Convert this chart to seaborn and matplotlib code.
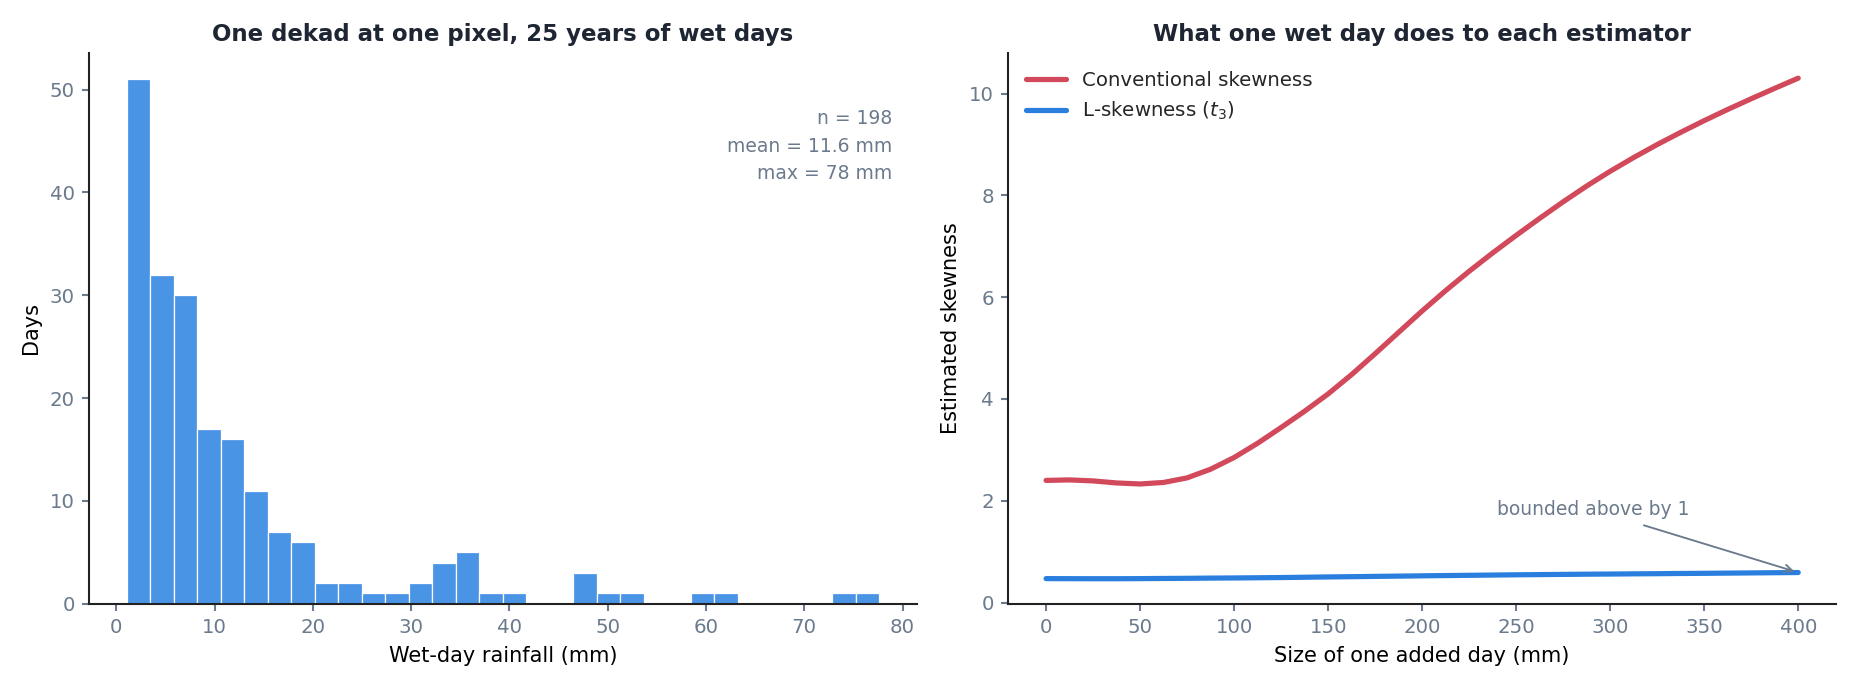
import numpy as np
import pandas as pd
import matplotlib
matplotlib.use("Agg")
import matplotlib.pyplot as plt
import seaborn as sns

# left panel: histogram of wet-day rainfall (32 equal bins)
rain_min = 1.07
rain_max = 77.6
day_counts = [51, 32, 30, 17, 16, 11, 7, 6, 2, 2, 1, 1, 2, 4, 5, 1,
              1, 0, 0, 3, 1, 1, 0, 0, 1, 1, 0, 0, 0, 0, 1, 1]
stats_lines = ["n = 198", "mean = 11.6 mm", "max = 78 mm"]

# right panel: skewness vs size of one added day (every 12.5 mm)
added_mm = [0, 12.5, 25, 37.5, 50, 62.5, 75, 87.5, 100, 112.5, 125, 137.5, 150,
            162.5, 175, 187.5, 200, 212.5, 225, 237.5, 250, 262.5, 275, 287.5, 300,
            312.5, 325, 337.5, 350, 362.5, 375, 387.5, 400]
conv_skew = [2.40, 2.41, 2.39, 2.35, 2.33, 2.36, 2.45, 2.62, 2.85, 3.13, 3.44, 3.76, 4.10,
             4.48, 4.89, 5.31, 5.73, 6.13, 6.51, 6.87, 7.215, 7.55, 7.875, 8.185, 8.475,
             8.745, 9.00, 9.24, 9.47, 9.69, 9.90, 10.105, 10.305]
l_skew = [0.470, 0.469, 0.468, 0.468, 0.470, 0.473, 0.476, 0.480, 0.483, 0.487, 0.491,
          0.497, 0.503, 0.508, 0.514, 0.519, 0.525, 0.530, 0.535, 0.540, 0.545, 0.549,
          0.553, 0.557, 0.560, 0.564, 0.567, 0.571, 0.574, 0.578, 0.582, 0.586, 0.590]

HIST_C = "#4a94e6"
RED = "#d1495b"
BLUE = "#2a7fde"
GREY = "#6b7a8c"
DARK = "#1f2633"

sns.set_theme(style="ticks")
plt.rcParams["font.family"] = ["DejaVu Sans"]
plt.rcParams.update({
    "axes.edgecolor": "#222222",
    "axes.linewidth": 1.0,
    "xtick.color": GREY,
    "ytick.color": GREY,
    "xtick.major.size": 3.5,
    "ytick.major.size": 3.5,
    "xtick.major.width": 1.0,
    "ytick.major.width": 1.0,
    "xtick.labelsize": 9.5,
    "ytick.labelsize": 9.5,
    "axes.labelsize": 10,
    "axes.labelcolor": "black",
})

nbins = len(day_counts)
width = (rain_max - rain_min) / nbins
centers = rain_min + width * (np.arange(nbins) + 0.5)
hist_df = pd.DataFrame({"rain": centers, "days": day_counts})

curve_df = pd.DataFrame({
    "added": added_mm * 2,
    "skew": conv_skew + l_skew,
    "estimator": ["Conventional skewness"] * len(added_mm) + ["L-skewness ($t_3$)"] * len(added_mm),
})

fig, (ax1, ax2) = plt.subplots(1, 2, figsize=(12.4, 4.6), dpi=150)
fig.subplots_adjust(left=0.048, right=0.987, bottom=0.125, top=0.923, wspace=0.111)

sns.histplot(data=hist_df, x="rain", weights="days", bins=nbins,
             binrange=(rain_min, rain_max), ax=ax1,
             color=HIST_C, alpha=1.0, edgecolor="white", linewidth=0.6)
ax1.set_xlabel("Wet-day rainfall (mm)")
ax1.set_ylabel("Days")
ax1.set_title("One dekad at one pixel, 25 years of wet days", fontsize=11,
              fontweight="bold", color=DARK)
ax1.set_xticks(range(0, 81, 10))
ax1.text(0.97, 0.898, "\n".join(stats_lines), transform=ax1.transAxes, ha="right",
         va="top", fontsize=9, color=GREY, linespacing=1.57)

sns.lineplot(data=curve_df, x="added", y="skew", hue="estimator",
             palette=[RED, BLUE], linewidth=2.5, ax=ax2)
ax2.set_xlabel("Size of one added day (mm)")
ax2.set_ylabel("Estimated skewness")
ax2.set_title("What one wet day does to each estimator", fontsize=11,
              fontweight="bold", color=DARK)
ax2.set_xticks(range(0, 401, 50))
ax2.legend(title=None, frameon=False, loc="upper left", fontsize=9.5)
ax2.annotate("bounded above by 1", xy=(added_mm[-1], l_skew[-1]), xytext=(240, 1.82),
             ha="left", va="center", fontsize=9, color=GREY,
             arrowprops=dict(arrowstyle="->", color=GREY, lw=0.9))

sns.despine(fig=fig)
fig.savefig("out.png", dpi=150)
